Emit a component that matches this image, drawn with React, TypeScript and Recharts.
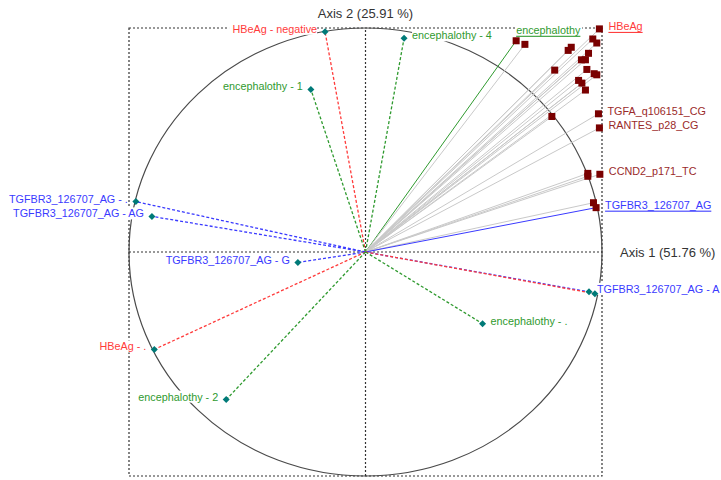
import React from 'react';
import { ScatterChart, Scatter, XAxis, YAxis, ReferenceArea, ReferenceLine } from 'recharts';

const categoryLabels = [
  'HBeAg - negative',
  'encephalothy - 4',
  'encephalothy - 1',
  'TGFBR3_126707_AG - .',
  'TGFBR3_126707_AG - AG',
  'TGFBR3_126707_AG - G',
  'TGFBR3_126707_AG - A',
  '',
  'HBeAg - .',
  'encephalothy - 2',
  'encephalothy - .',
];
const categoryGroups = [
  'HBeAg',
  'encephalothy',
  'encephalothy',
  'TGFBR3_126707_AG',
  'TGFBR3_126707_AG',
  'TGFBR3_126707_AG',
  'TGFBR3_126707_AG',
  'HBeAg',
  'HBeAg',
  'encephalothy',
  'encephalothy',
];
const categoryX = [-0.171, 0.163, -0.231, -0.971, -0.903, -0.286, 0.945, 0.970, -0.893, -0.589, 0.495];
const categoryY = [0.983, 0.954, 0.726, 0.225, 0.159, -0.047, -0.178, -0.186, -0.435, -0.659, -0.320];

const variableLabels = [
  'HBeAg', 'encephalothy', '', '', '', '', '', '', '', '', '', '', '', '', '', '', '', '',
  'TGFA_q106151_CG', 'RANTES_p28_CG', '', '', 'CCND2_p171_TC', '', 'TGFBR3_126707_AG',
];
const variableX = [
  0.989, 0.637, 0.674, 0.870, 0.857, 0.961, 0.978, 0.943, 0.913, 0.930, 0.800, 0.936, 0.967,
  0.978, 0.901, 0.915, 0.930, 0.788, 0.985, 0.989, 0.940, 0.940, 0.991, 0.964, 0.975,
];
const variableY = [
  0.996, 0.943, 0.927, 0.914, 0.900, 0.951, 0.933, 0.887, 0.858, 0.858, 0.812, 0.815, 0.796,
  0.791, 0.766, 0.754, 0.723, 0.605, 0.617, 0.554, 0.351, 0.338, 0.347, 0.220, 0.198,
];

const axis1Title = 'Axis 1 (51.76 %)';
const axis2Title = 'Axis 2 (25.91 %)';

const groupColor: Record<string, string> = {
  HBeAg: '#FF3B3B',
  encephalothy: '#2F9A2F',
  TGFBR3_126707_AG: '#3A3AFF',
};

const categories = categoryLabels.map((label, i) => ({
  x: categoryX[i],
  y: categoryY[i],
  label,
  group: categoryGroups[i],
}));
const variables = variableLabels.map((label, i) => ({
  x: variableX[i],
  y: variableY[i],
  label,
}));

const FONT = '"Liberation Sans", Arial, sans-serif';
const LABEL_SIZE = 10.8;
const textWidth = (s: string) => s.length * 5.5;

const CategoryShape = (props: any) => {
  const { cx, cy } = props;
  const p = props.payload ?? props;
  const color = groupColor[p.group];
  const left = p.x < 0;
  const tx = left ? cx - 8 : cx + 8;
  const ty = cy - 3;
  const w = textWidth(p.label);
  return (
    <g>
      {p.label ? (
        <>
          <rect x={left ? tx - w : tx} y={ty - 6} width={w} height={12} fill="#fff" />
          <text
            x={tx}
            y={ty}
            textAnchor={left ? 'end' : 'start'}
            dominantBaseline="central"
            fontSize={LABEL_SIZE}
            fontFamily={FONT}
            fill={color}
          >
            {p.label}
          </text>
        </>
      ) : null}
      <polygon
        points={`${cx},${cy - 3.5} ${cx + 3.5},${cy} ${cx},${cy + 3.5} ${cx - 3.5},${cy}`}
        fill="#007A78"
      />
    </g>
  );
};

const VariableShape = (props: any) => {
  const { cx, cy } = props;
  const p = props.payload ?? props;
  const label: string = p.label;
  const isGroup = label in groupColor;
  const color = isGroup ? groupColor[label] : '#9A2A2A';
  const above = label === 'encephalothy';
  const tx = above ? cx : cx + 9;
  const ty = above ? cy - 11 : cy - 3;
  const w = textWidth(label);
  return (
    <g>
      {label ? (
        <>
          <rect x={tx} y={ty - 6} width={w} height={12} fill="#fff" />
          <text
            x={tx}
            y={ty}
            textAnchor="start"
            dominantBaseline="central"
            fontSize={LABEL_SIZE}
            fontFamily={FONT}
            fill={color}
            style={{ textDecoration: isGroup ? 'underline' : 'none' }}
          >
            {label}
          </text>
        </>
      ) : null}
      <rect x={cx - 3.5} y={cy - 3.5} width={7} height={7} fill="#7A0000" />
    </g>
  );
};

const EllipseShape = (props: any) => {
  const { x, y, width, height } = props;
  return (
    <ellipse
      cx={x + width / 2}
      cy={y + height / 2}
      rx={width / 2}
      ry={height / 2}
      fill="none"
      stroke="#4A4A4A"
      strokeWidth={1.2}
    />
  );
};

const varLineColor = (label: string) =>
  label === 'encephalothy' ? groupColor.encephalothy : label === 'TGFBR3_126707_AG' ? groupColor.TGFBR3_126707_AG : '#C9C9C9';

export default function App() {
  return (
    <div style={{ position: 'absolute', left: 0, top: 0, width: 721, height: 480, background: '#fff' }}>
      <ScatterChart
        width={721}
        height={480}
        margin={{ top: 28, right: 119, bottom: 4, left: 129 }}
        style={{ fontFamily: FONT }}
      >
        <XAxis type="number" dataKey="x" domain={[-1, 1]} hide />
        <YAxis type="number" dataKey="y" domain={[-1, 1]} hide />
        <ReferenceArea
          x1={-1}
          x2={1}
          y1={-1}
          y2={1}
          fill="none"
          fillOpacity={0}
          stroke="#333"
          strokeDasharray="2 2"
          strokeWidth={1.2}
          {...({ zIndex: 1 } as any)}
        />
        <ReferenceArea x1={-1} x2={1} y1={-1} y2={1} shape={EllipseShape} {...({ zIndex: 1 } as any)} />
        <ReferenceLine
          x={0}
          stroke="#333"
          strokeDasharray="2 2"
          strokeWidth={1.2}
          label={{ value: axis2Title, position: 'top', offset: 10, fill: '#333', fontSize: 13, fontFamily: FONT }}
          {...({ zIndex: 2 } as any)}
        />
        <ReferenceLine
          y={0}
          stroke="#333"
          strokeDasharray="2 2"
          strokeWidth={1.2}
          label={{ value: axis1Title, position: 'right', offset: 18, fill: '#333', fontSize: 13, fontFamily: FONT }}
          {...({ zIndex: 2 } as any)}
        />
        {variables.map((v, i) => (
          <ReferenceLine
            key={`v${i}`}
            segment={[{ x: 0, y: 0 }, { x: v.x, y: v.y }]}
            stroke={varLineColor(v.label)}
            strokeWidth={1}
            {...({ zIndex: 3 } as any)}
          />
        ))}
        {categories.map((c, i) => (
          <ReferenceLine
            key={`c${i}`}
            segment={[{ x: 0, y: 0 }, { x: c.x, y: c.y }]}
            stroke={groupColor[c.group]}
            strokeDasharray="3 2"
            strokeWidth={1.3}
            {...({ zIndex: 3 } as any)}
          />
        ))}
        <Scatter data={variables} shape={VariableShape} isAnimationActive={false} {...({ zIndex: 700 } as any)} />
        <Scatter data={categories} shape={CategoryShape} isAnimationActive={false} {...({ zIndex: 700 } as any)} />
      </ScatterChart>
    </div>
  );
}
